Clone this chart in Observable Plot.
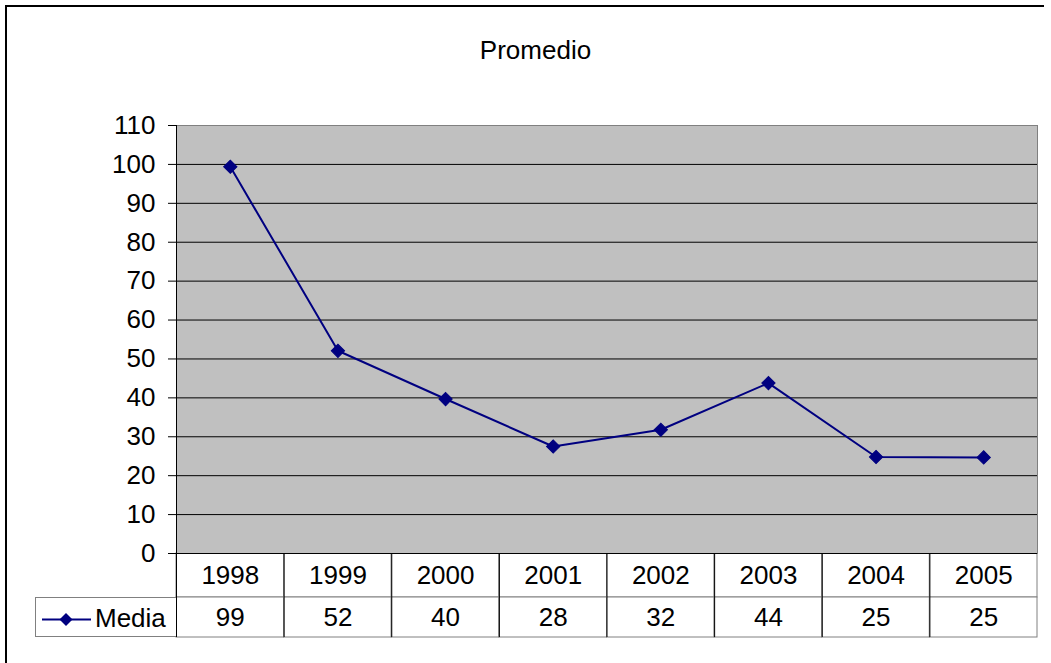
<!DOCTYPE html>
<html>
<head>
<meta charset="utf-8">
<script src="https://cdn.jsdelivr.net/npm/d3@7"></script>
<script src="https://cdn.jsdelivr.net/npm/@observablehq/plot@0.6"></script>
<style>
  body { margin: 0; background: #fff; font-family: "Liberation Sans", Arial, sans-serif; color: #000; }
  #wrap { position: relative; width: 1051px; height: 663px; overflow: hidden; background: #fff; }
  #border { position: absolute; left: 5px; top: 5px; width: 1037px; height: 2000px; border-left: 2px solid #000; border-top: 2px solid #000; }
  #title { position: absolute; left: 0; top: 36px; width: 1071px; text-align: center; font-size: 26px; line-height: 28px; }
  #table { position: absolute; left: 175px; top: 552px; }
  #chart { position: absolute; left: 0; top: 90px; }
  #legend { position: absolute; left: 35px; top: 597px; width: 141px; height: 40px; box-sizing: border-box;
            border: 1px solid #808080; border-right: none; background: #fff; }
  #legend svg { position: absolute; left: 0; top: 0; }
  #legend span { position: absolute; left: 59px; top: 6px; font-size: 26px; line-height: 28px; }
</style>
</head>
<body>
<div id="wrap">
  <div id="border"></div>
  <div id="title">Promedio</div>
  <div id="table"></div>
  <div id="chart"></div>
  <div id="legend">
    <svg width="60" height="40"><line x1="6" x2="55" y1="21.5" y2="21.5" stroke="#000080" stroke-width="2"/><path d="M30,15 L36.5,21.5 L30,28 L23.5,21.5 Z" fill="#000080"/></svg>
    <span>Media</span>
  </div>
</div>
<script>
const years = ["1998", "1999", "2000", "2001", "2002", "2003", "2004", "2005"];
const values = [99.4, 52.1, 39.7, 27.5, 31.8, 43.8, 24.8, 24.7];
const yTicks = [0, 10, 20, 30, 40, 50, 60, 70, 80, 90, 100, 110];
const seriesName = "Media";

const data = years.map((year, i) => ({year, value: values[i]}));
const fmt = v => String(Math.round(v));

const W = 1051, ML = 176, MR = 14;
const bw = (W - ML - MR) / years.length;
const font = "'Liberation Sans', Arial, sans-serif";
const FS = 26;

const table = Plot.plot({
  width: W - ML + 1, height: 86,
  marginLeft: 1, marginRight: MR, marginTop: 1, marginBottom: 1,
  style: {background: "transparent", fontFamily: font, fontSize: FS + "px", color: "#000"},
  x: {type: "band", domain: years, padding: 0, round: false, axis: null},
  y: {type: "band", domain: ["year", seriesName], padding: 0, round: false, axis: null},
  marks: [
    Plot.cell(years, {x: d => d, y: () => "year", fill: "white", stroke: "#808080", insetBottom: -2}),
    Plot.cell(data, {x: "year", y: () => seriesName, fill: "white", stroke: "#808080", insetTop: 2}),
    Plot.ruleX(years, {dx: -bw / 2, stroke: "#000"}),
    Plot.text(years, {x: d => d, y: () => "year", text: d => d, fontSize: FS, fill: "#000", dy: 1}),
    Plot.text(data, {x: "year", y: () => seriesName, text: d => fmt(d.value), fontSize: FS, fill: "#000", dy: 1})
  ]
});
document.getElementById("table").append(table);

const chart = Plot.plot({
  width: W, height: 480,
  marginLeft: ML, marginRight: MR, marginTop: 35, marginBottom: 17,
  style: {background: "transparent", fontFamily: font, fontSize: FS + "px", color: "#000"},
  x: {type: "band", domain: years, padding: 0, round: false, axis: null},
  y: {domain: [0, 110]},
  marks: [
    Plot.frame({fill: "#c0c0c0", stroke: "#808080"}),
    Plot.ruleY(yTicks.filter(t => t > 0 && t < 110), {stroke: "#000"}),
    Plot.ruleY([0], {stroke: "#000"}),
    Plot.ruleX([years[0]], {dx: -bw / 2, stroke: "#000"}),
    Plot.axisY(yTicks, {tickSize: 8, tickPadding: 13, fontSize: FS, fill: "#000", stroke: "#000", label: null}),
    Plot.line(data, {x: "year", y: "value", stroke: "#000080", strokeWidth: 2}),
    Plot.dot(data, {x: "year", y: "value", symbol: "square", r: 5.3, rotate: 45, fill: "#000080", stroke: "#000080", strokeWidth: 1})
  ]
});
document.getElementById("chart").append(chart);
</script>
</body>
</html>
